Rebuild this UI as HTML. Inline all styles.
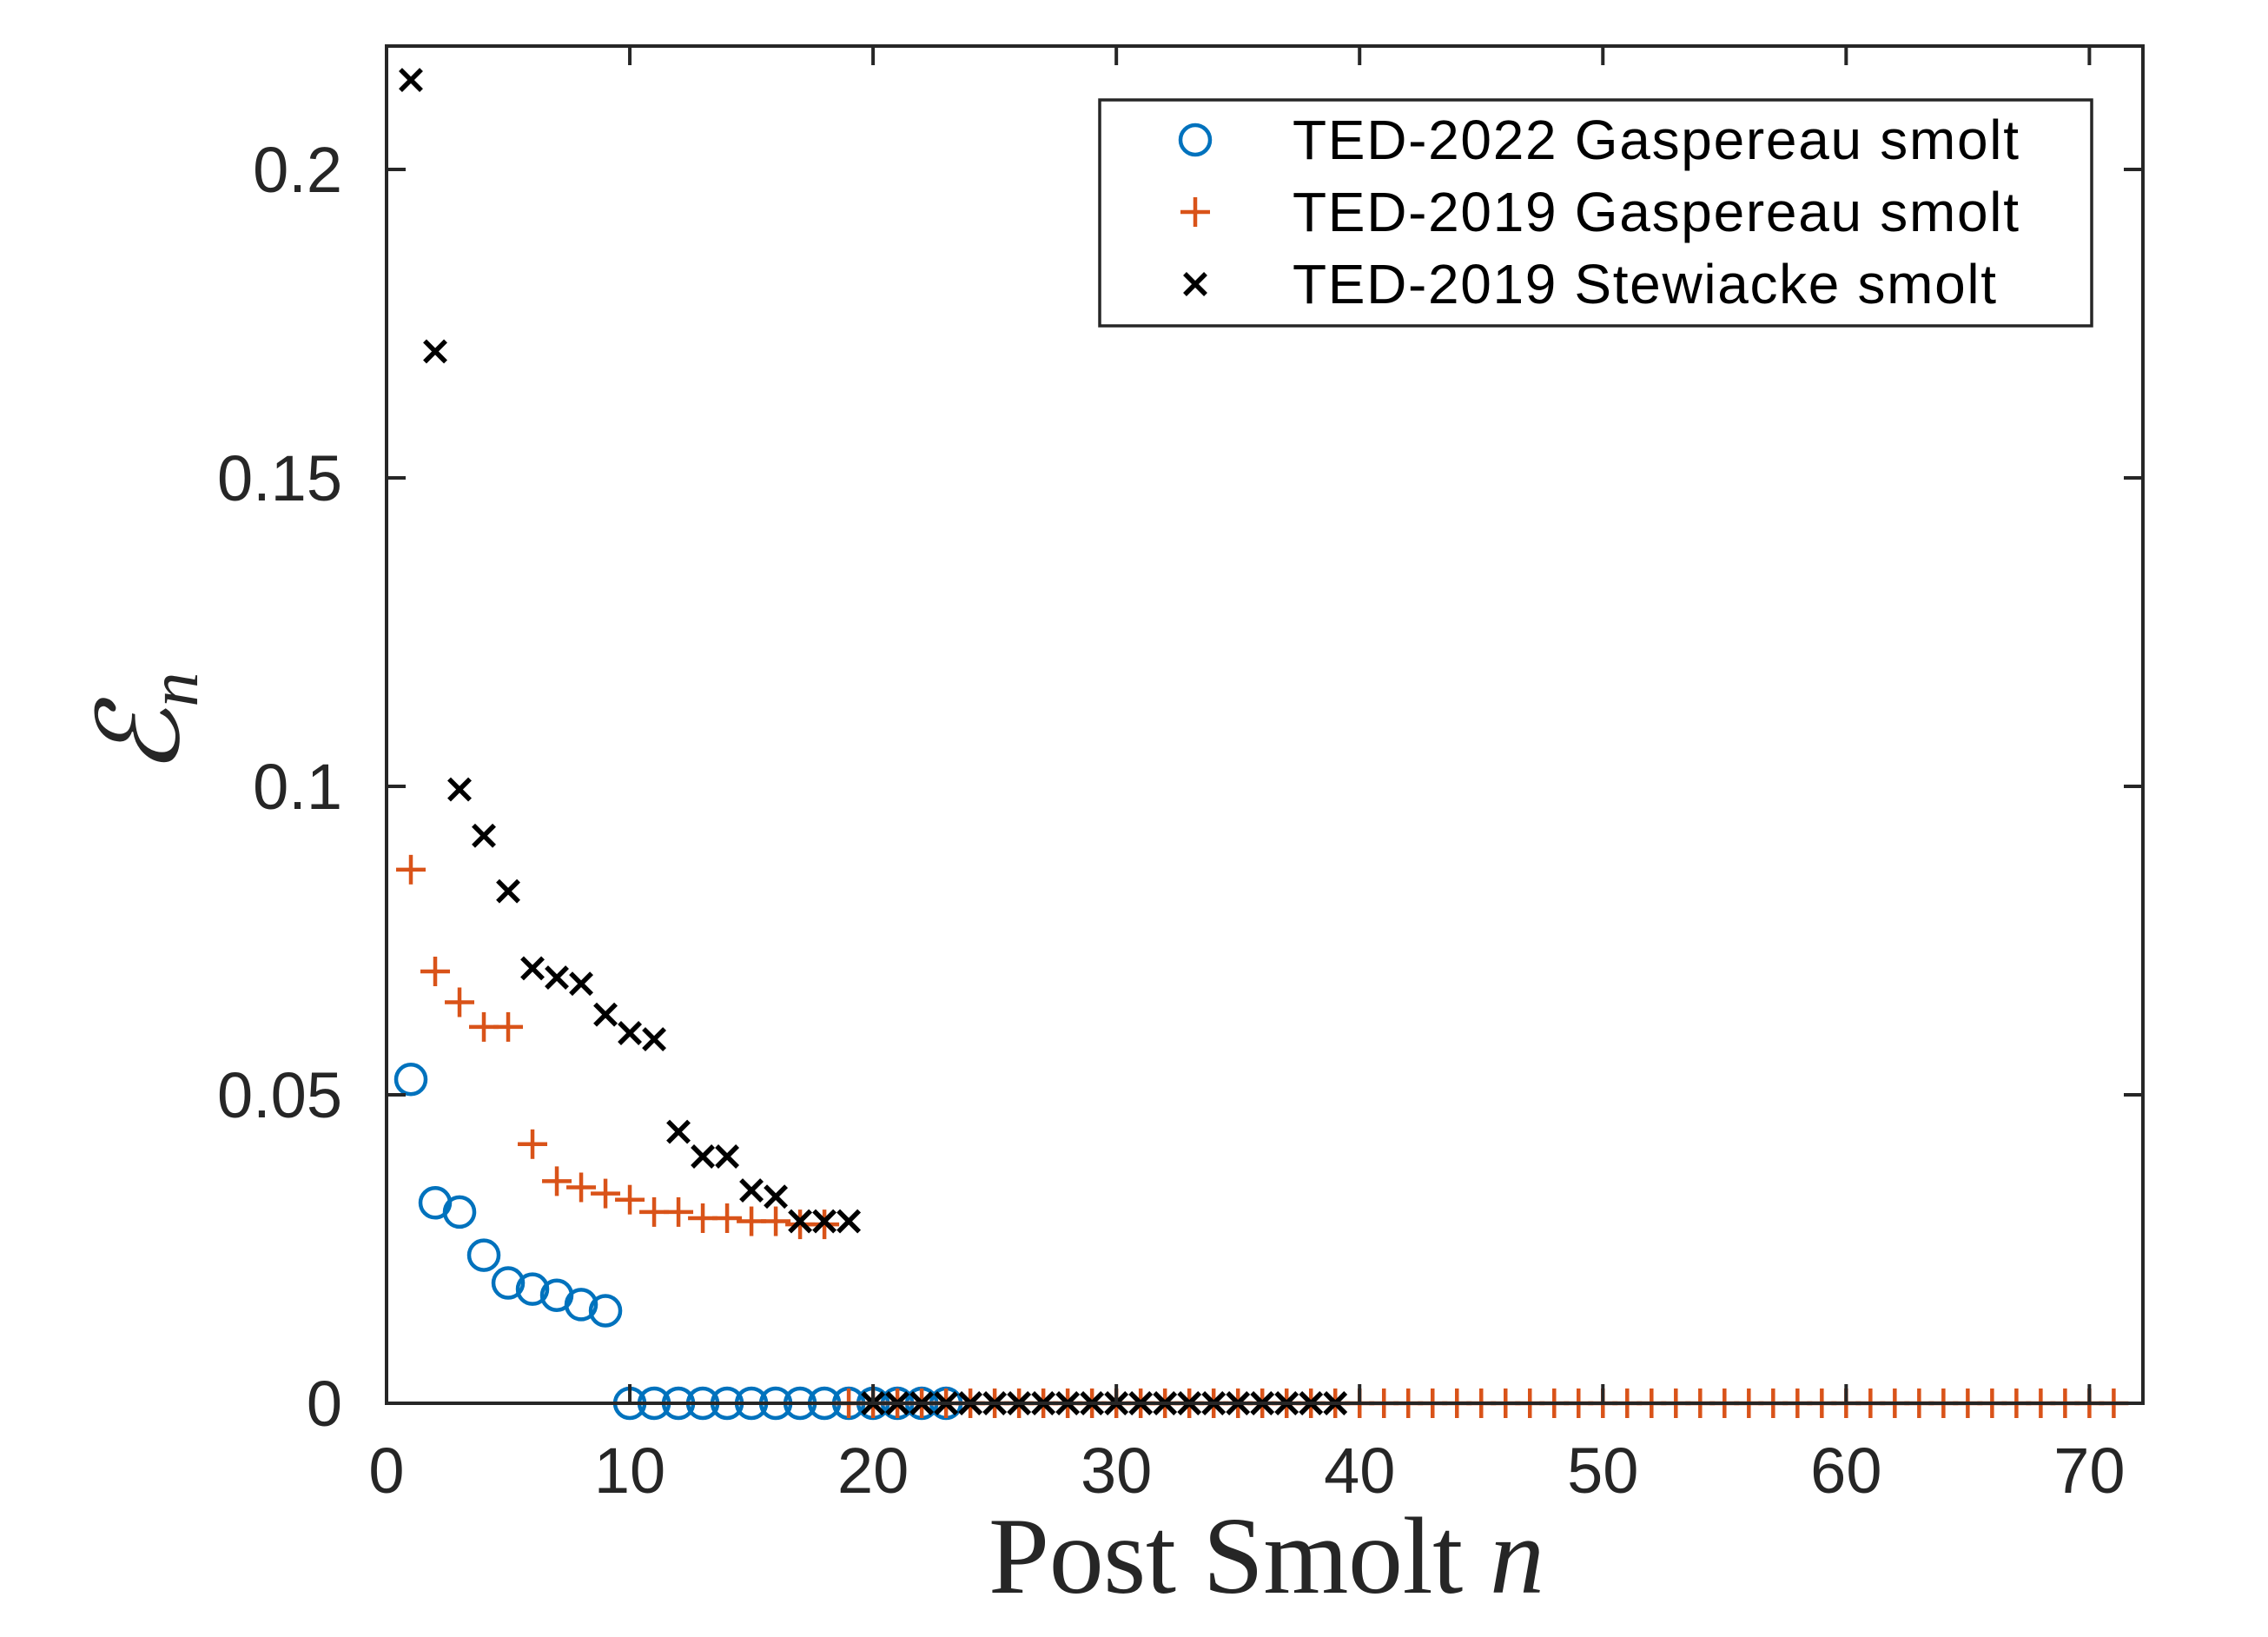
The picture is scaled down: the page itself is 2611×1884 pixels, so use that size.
<!DOCTYPE html>
<html><head><meta charset="utf-8"><style>html,body{margin:0;padding:0;background:#fff}svg{display:block}</style></head>
<body>
<svg id="chart" width="2611" height="1884" viewBox="0 0 2611 1884" xmlns="http://www.w3.org/2000/svg">
<rect width="2611" height="1884" fill="#fff"/>
<g id="marks"></g>
<g id="axes"></g>
<g>
<rect x="1266" y="115" width="1142" height="260" fill="#fff" stroke="#262626" stroke-width="3.5"/>
<circle cx="1376" cy="161" r="17" fill="none" stroke="#0072BD" stroke-width="4.5"/>
<text x="1488" y="183" font-family="Liberation Sans, sans-serif" font-size="64" fill="#000" textLength="836">TED-2022 Gaspereau smolt</text>
<g stroke="#D95319" stroke-width="4.5"><line x1="1359" y1="244" x2="1393" y2="244"/><line x1="1376" y1="227" x2="1376" y2="261"/></g>
<text x="1488" y="266" font-family="Liberation Sans, sans-serif" font-size="64" fill="#000" textLength="836">TED-2019 Gaspereau smolt</text>
<g stroke="#000" stroke-width="5.5"><line x1="1364" y1="315" x2="1388" y2="339"/><line x1="1364" y1="339" x2="1388" y2="315"/></g>
<text x="1488" y="349" font-family="Liberation Sans, sans-serif" font-size="64" fill="#000" textLength="810">TED-2019 Stewiacke smolt</text>
</g>
<text x="1458" y="1833" text-anchor="middle" font-family="Liberation Serif, serif" font-size="126" fill="#262626" textLength="640">Post Smolt <tspan font-style="italic">n</tspan></text>
<g transform="translate(205,833) rotate(-90)">
<text x="0" y="0" text-anchor="middle" font-family="Liberation Serif, serif" font-style="italic" font-size="130" fill="#262626">ℰ<tspan font-size="80" dy="22">n</tspan></text>
</g>
<script>
const blueVals=[0.0525,0.0325,0.031,0.024,0.0195,0.0185,0.0175,0.016,0.015,0,0,0,0,0,0,0,0,0,0,0,0,0,0];
const orangeVals=[0.0865,0.07,0.065,0.061,0.061,0.042,0.036,0.035,0.034,0.033,0.031,0.031,0.030,0.030,0.0295,0.0295,0.029,0.029,0,0,0,0,0,0,0,0,0,0,0,0,0,0,0,0,0,0,0,0,0,0,0,0,0,0,0,0,0,0,0,0,0,0,0,0,0,0,0,0,0,0,0,0,0,0,0,0,0,0,0,0,0];
const blackVals=[0.2145,0.1705,0.0995,0.092,0.083,0.0705,0.069,0.068,0.063,0.060,0.059,0.044,0.040,0.040,0.0345,0.0335,0.0295,0.0295,0.0295,0,0,0,0,0,0,0,0,0,0,0,0,0,0,0,0,0,0,0,0];
const xTicks=[0,10,20,30,40,50,60,70];
const yTicks=[0,0.05,0.1,0.15,0.2];
const yTickLabels=["0","0.05","0.1","0.15","0.2"];
const X0=445,X1=2467,Y0=1615,Y1=53,XMAX=72.2,YMAX=0.22;
function sx(v){return X0+(X1-X0)*v/XMAX;}
function sy(v){return Y0-(Y0-Y1)*v/YMAX;}
const NS="http://www.w3.org/2000/svg";
function mk(t,a,p){const e=document.createElementNS(NS,t);for(const k in a)e.setAttribute(k,a[k]);p.appendChild(e);return e;}
const marks=document.getElementById('marks');
const axes=document.getElementById('axes');
const box=mk('rect',{x:X0,y:Y1,width:X1-X0,height:Y0-Y1,fill:'none',stroke:'#262626','stroke-width':4},axes);


xTicks.forEach(t=>{
  const x=sx(t);
  const g=mk('g',{stroke:'#262626','stroke-width':4},axes);
  
  
  mk('line',{x1:x,y1:Y0,x2:x,y2:Y0-22},g);
  mk('line',{x1:x,y1:Y1,x2:x,y2:Y1+22},g);
  const tx=mk('text',{x:x,y:1718,'text-anchor':'middle','font-family':'Liberation Sans, sans-serif','font-size':74,fill:'#262626'},axes);
  
  
  tx.textContent=String(t);
});
yTicks.forEach((t,i)=>{
  const y=sy(t);
  const g=mk('g',{stroke:'#262626','stroke-width':4},axes);
  
  
  mk('line',{x1:X0,y1:y,x2:X0+22,y2:y},g);
  mk('line',{x1:X1,y1:y,x2:X1-22,y2:y},g);
  const tx=mk('text',{x:394,y:y+26,'text-anchor':'end','font-family':'Liberation Sans, sans-serif','font-size':74,fill:'#262626'},axes);
  
  
  tx.textContent=yTickLabels[i];
});
blueVals.forEach((v,i)=>{
  const c=mk('circle',{cx:sx(i+1),cy:sy(v),r:17,fill:'none',stroke:'#0072BD','stroke-width':4.5},marks);
  
  
});
orangeVals.forEach((v,i)=>{
  const x=sx(i+1),y=sy(v);
  const g=mk('g',{stroke:'#D95319','stroke-width':4.5},marks);
  
  
  mk('line',{x1:x-17,y1:y,x2:x+17,y2:y},g);
  mk('line',{x1:x,y1:y-17,x2:x,y2:y+17},g);
});
blackVals.forEach((v,i)=>{
  const x=sx(i+1),y=sy(v);
  const g=mk('g',{stroke:'#000','stroke-width':5.5},marks);
  
  
  mk('line',{x1:x-12,y1:y-12,x2:x+12,y2:y+12},g);
  mk('line',{x1:x-12,y1:y+12,x2:x+12,y2:y-12},g);
});
</script>
</svg>
</body></html>
